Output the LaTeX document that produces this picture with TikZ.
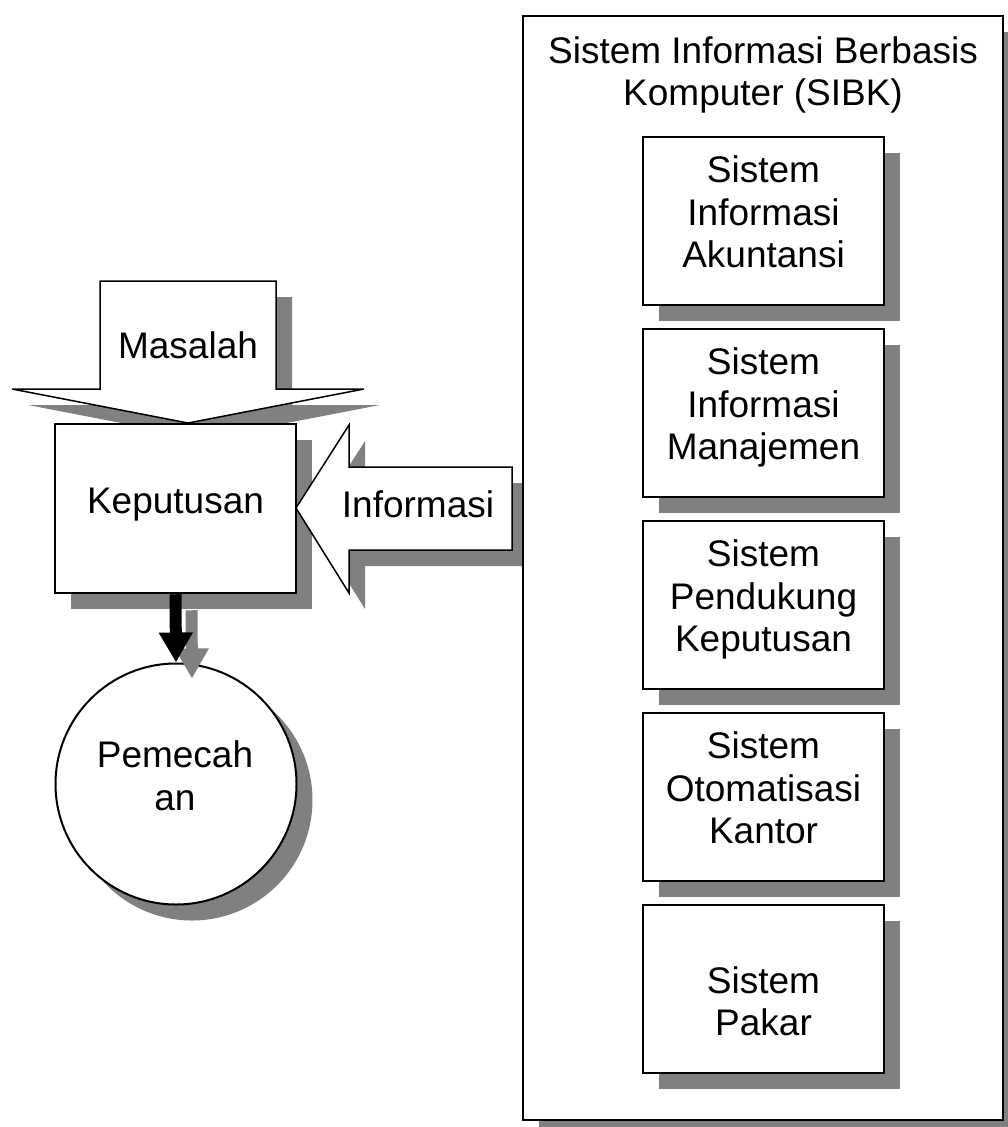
\documentclass[tikz,border=0pt]{standalone}
\usepackage{fontspec}
\setmainfont{Liberation Sans}
\usetikzlibrary{arrows.meta,shadows}
\definecolor{shadegray}{HTML}{808080}
\tikzset{
  txt/.style={font=\fontsize{37}{42.5}\selectfont, align=center, inner sep=0pt},
  dropshade/.style={drop shadow={shadow xshift=16pt, shadow yshift=-16pt, fill=shadegray, opacity=1}},
  panel/.style={draw, line width=2.5pt, fill=white, inner sep=0pt,
    minimum width=241pt, minimum height=168pt, dropshade},
  frame/.style={draw, line width=2.5pt, fill=white, inner sep=0pt,
    minimum width=480pt, minimum height=1104pt, dropshade},
  blockarrow/.style={draw, line width=1.5pt, fill=white},
  blockshade/.style={fill=shadegray, shift={(16,16)}},
  flow/.style={line width=12pt, -{Triangle[width=32pt,length=30pt]}},
}
\begin{document}
\begin{tikzpicture}[x=1pt,y=-1pt]
  \path[use as bounding box, clip] (0,0) rectangle (1008,1127);
  \fill[white] (0,0) rectangle (1008,1127);

  % shadow of the "Informasi" block arrow (behind the SIBK frame)
  \path[blockshade] (296,508) -- (349,425) -- (349,467) -- (512,467)
    -- (512,550) -- (349,550) -- (349,593) -- cycle;

  % SIBK frame and its subsystems
  \node[frame] (sibk) at (763,568) {};
  \node[txt, anchor=north] (sibktitle) at (763,36)
    {Sistem Informasi Berbasis\\Komputer (SIBK)};

  \node[panel] (sia) at (763.5,221) {};
  \node[txt, anchor=north] (sialbl) at (763.5,155.5) {Sistem\\Informasi\\Akuntansi};
  \node[panel] (sim) at (763.5,413) {};
  \node[txt, anchor=north] (simlbl) at (763.5,347.5) {Sistem\\Informasi\\Manajemen};
  \node[panel] (spk) at (763.5,605) {};
  \node[txt, anchor=north] (spklbl) at (763.5,539.5) {Sistem\\Pendukung\\Keputusan};
  \node[panel] (sok) at (763.5,797) {};
  \node[txt, anchor=north] (soklbl) at (763.5,731.5) {Sistem\\Otomatisasi\\Kantor};
  \node[panel] (sp) at (763.5,989) {};
  \node[txt, anchor=north] (splbl) at (763.5,966) {Sistem\\Pakar};

  % "Masalah" block arrow pointing down onto the decision
  \path[blockshade] (100,281) -- (276,281) -- (276,389) -- (364,389)
    -- (188,423) -- (12,389) -- (100,389) -- cycle;
  \path[blockarrow] (100,281) -- (276,281) -- (276,389) -- (364,389)
    -- (188,423) -- (12,389) -- (100,389) -- cycle;
  \node[txt, anchor=base] (masalah) at (188,358) {Masalah};

  % decision box
  \node[panel, minimum height=169pt] (kep) at (175.5,508.5) {};
  \node[txt, anchor=base] (keplbl) at (175.5,513) {Keputusan};

  % "Informasi" block arrow pointing left onto the decision
  \path[blockarrow] (296,508) -- (349,425) -- (349,467) -- (512,467)
    -- (512,550) -- (349,550) -- (349,593) -- cycle;
  \node[txt, anchor=base] (info) at (418,517) {Informasi};

  % solution circle
  \node[circle, draw, line width=2pt, fill=white, minimum size=241pt,
    inner sep=0pt, dropshade] (circ) at (176,784) {};
  \node[txt, anchor=north] (circlbl) at (175,740.5) {Pemecah\\an};

  % decision -> solution
  \draw[flow, shadegray] ([shift={(16,16)}]kep.south) -- ([shift={(16,16)}]circ.north);
  \draw[flow, black] (kep.south) -- (circ.north);
\end{tikzpicture}
\end{document}
